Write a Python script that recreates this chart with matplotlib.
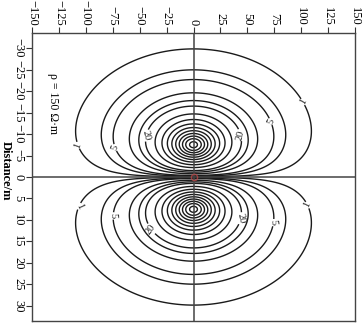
import numpy as np
import matplotlib
matplotlib.use("Agg")
import matplotlib.pyplot as plt

plt.rcParams['font.family'] = ['Liberation Serif', 'DejaVu Serif']

# ---- chart values ----
x_ticks = [-150, -125, -100, -75, -50, -25, 0, 25, 50, 75, 100, 125, 150]
y_ticks = [-30, -25, -20, -15, -10, -5, 0, 5, 10, 15, 20, 25, 30]
contour_levels = [1, 3, 5, 10, 15, 20, 30, 40, 50, 60, 70, 80, 90, 100, 110]
label_levels = [1, 5, 20]
y_label = "Distance/m"
rho_text = "ρ = 150 Ω·m"

# model parameters of the field (source pair mirrored about Distance = 0)
SRC_CENTER = 7.44      # distance of source centre from axis (m)
CORE = 1.4             # soft core radius (m)
X_STRETCH = 5.19       # horizontal anisotropy (x-units per m)
DECAY = 4.42           # decay length (m)
REF_POINT = (0.0, 29.8)  # where the outermost level (1) tops out

# ---- field ----
xg = np.linspace(-150, 150, 901)
yg = np.linspace(-34, 34, 561)
X, Y = np.meshgrid(xg, yg)


def field(xv, yv):
    xs = xv / X_STRETCH
    r1 = np.sqrt(xs ** 2 + (np.abs(yv) - SRC_CENTER) ** 2 + CORE ** 2)
    r2 = np.sqrt(xs ** 2 + (np.abs(yv) + SRC_CENTER) ** 2 + CORE ** 2)
    return np.exp(-r1 / DECAY) - np.exp(-r2 / DECAY)


V = field(X, Y) / field(np.array(REF_POINT[0]), np.array(REF_POINT[1]))

fig = plt.figure(figsize=(3.63, 3.30), dpi=100)
ax = fig.add_axes([32 / 363, 9 / 330, 323 / 363, 288 / 330])

other_levels = [lv for lv in contour_levels if lv not in label_levels]
ax.contour(X, Y, V, levels=other_levels, colors='#1a1a1a', linewidths=1.0)
cs_lab = ax.contour(X, Y, V, levels=label_levels, colors='#1a1a1a', linewidths=1.0)
label_pos = [(-107, -7.4), (-71, -7), (-37.6, -9.3),
             (104.5, -17.9), (71, -12.8), (39.5, -9.5),
             (-104.5, 7), (-70, 9.1), (-38.5, 11.9),
             (104.5, 6.7), (71, 10.5), (38.5, 9.3)]
ax.clabel(cs_lab, fmt='%d', fontsize=7.5, inline=True,
          inline_spacing=1, manual=label_pos)

ax.axhline(0, color='#444444', lw=1.1)
ax.axvline(0, color='#444444', lw=1.1)
ax.plot(0, 0, marker='o', ms=4.5, mfc='none', mec='#c04848', mew=1.0, alpha=0.75)

ax.set_xlim(-150, 150)
ax.set_ylim(33.5, -33.5)
ax.set_xticks(x_ticks)
ax.set_yticks(y_ticks)
ax.xaxis.tick_top()
ax.tick_params(axis='x', which='both', top=True, bottom=False, labeltop=True,
               labelbottom=False, direction='out', length=4, pad=1.5,
               labelsize=9, labelrotation=-90, color='#333333')
ax.tick_params(axis='y', direction='out', length=4, pad=1.5, labelsize=9,
               labelrotation=-90, color='#333333')
for lab in ax.get_xticklabels():
    lab.set_ha('center')
    lab.set_va('bottom')
for lab in ax.get_yticklabels():
    lab.set_ha('right')
    lab.set_va('center')

ax.set_ylabel(y_label, rotation=-90, fontsize=9, fontweight='bold', va='center', ha='center')
ax.yaxis.set_label_coords(-0.082, 0.52)

ax.text(-130.5, -17, rho_text, rotation=-90, fontsize=8.5, ha='center', va='center')

for sp in ax.spines.values():
    sp.set_color('#444444')
    sp.set_linewidth(1.0)

fig.savefig("out.png", dpi=100)
